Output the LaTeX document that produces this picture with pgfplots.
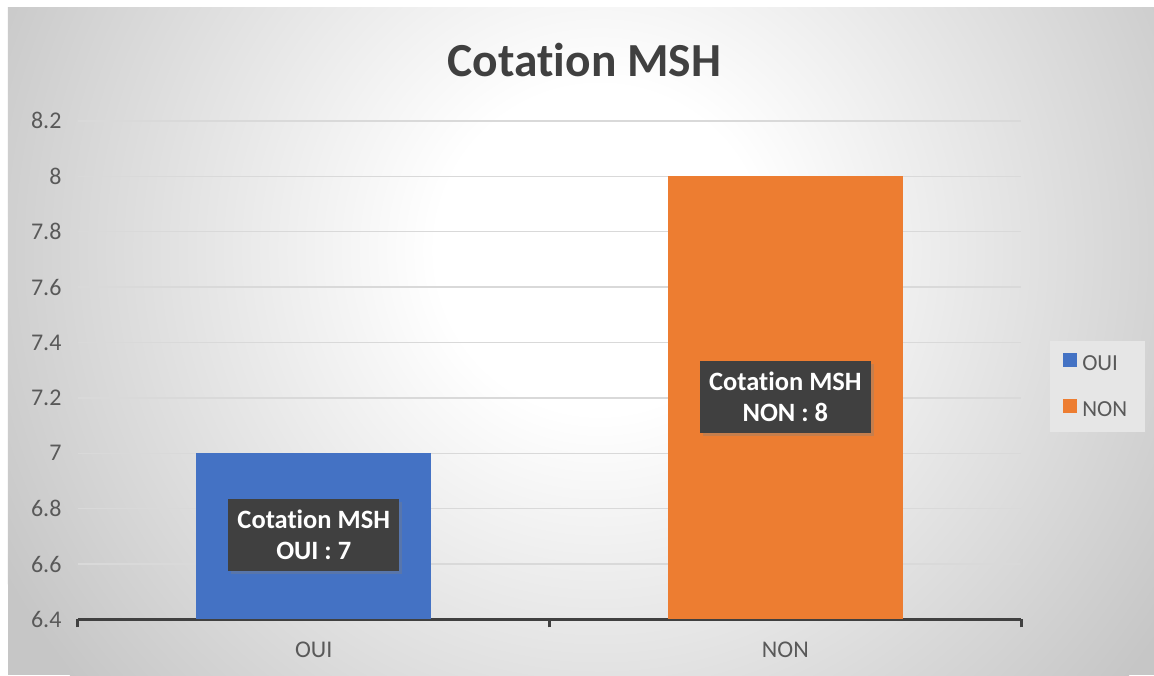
\documentclass[border=0pt]{standalone}
\usepackage{pgfplots}
\pgfplotsset{compat=1.18}
\usepackage{fontspec}
\setmainfont{Carlito}[Ligatures={NoCommon}]
\usetikzlibrary{shadows}
\definecolor{oui}{HTML}{4472C4}
\definecolor{non}{HTML}{ED7D31}
\definecolor{boxgray}{HTML}{404040}
\definecolor{txtgray}{HTML}{595959}
\definecolor{titlegray}{HTML}{404040}
\definecolor{gridgray}{HTML}{D9D9D9}
\definecolor{axisgray}{HTML}{404040}
\definecolor{bggray}{HTML}{C6C6C6}
\definecolor{legfill}{HTML}{E6E6E6}
\pgfdeclareradialshading{bgshade}{\pgfpointorigin}{color(0bp)=(white); color(6bp)=(white); color(25bp)=(bggray); color(60bp)=(bggray)}
\begin{document}
\begin{tikzpicture}[x=1pt,y=1pt]
\fill[white] (0,0) rectangle (1154,675);
\begin{scope}
\clip (8,-1) rectangle (1155,667);
\fill[bggray] (8,-1) rectangle (1155,667);
\shade[shading=bgshade] (600,425) circle (680);
\end{scope}
\begin{axis}[
  at={(78pt,55pt)}, anchor=south west,
  scale only axis, width=944pt, height=499pt,
  xmin=-0.5, xmax=1.5, ymin=6.4, ymax=8.2,
  ytick={6.4,6.6,6.8,7,7.2,7.4,7.6,7.8,8,8.2},
  ymajorgrids, grid style={draw=gridgray, line width=1.3pt},
  axis x line*=bottom, axis y line*=left,
  x axis line style={draw=axisgray, line width=3pt, -},
  y axis line style={draw=none},
  xtick={0,1}, xticklabels={OUI,NON},
  major x tick style={draw=none},
  minor xtick={-0.5,0.5,1.5},
  minor x tick style={draw=axisgray, line width=3pt},
  xtick align=outside, minor tick length=8pt,
  ytick style={draw=none},
  /pgf/number format/assume math mode=true,
  ticklabel style={font=\fontsize{24}{29}\selectfont, text=txtgray},
  yticklabel style={xshift=-13pt},
  xticklabel style={yshift=-15pt},
  legend style={at={(1.0307,0.559)}, anchor=north west, draw=none,
    fill=legfill, 
    inner xsep=13pt, inner ysep=12pt, row sep=25pt,
    nodes={inner ysep=2pt, inner xsep=5pt, font=\fontsize{23}{28}\selectfont, text=txtgray}},
  legend cell align=left,
]
\addplot[ybar, bar width=235pt, bar shift=0pt, fill=oui, draw=none,
  legend image code/.code={\fill[oui] (0pt,-3pt) rectangle (14pt,11pt);}]
  coordinates {(0,7)};
\addlegendentry{OUI}
\addplot[ybar, bar width=235pt, bar shift=0pt, fill=non, draw=none,
  legend image code/.code={\fill[non] (0pt,-3pt) rectangle (14pt,11pt);}]
  coordinates {(1,8)};
\addlegendentry{NON}
\node[fill=boxgray, text=white, align=center, minimum width=171pt, minimum height=73pt,
  inner sep=0pt, font=\fontsize{26.5}{31}\selectfont\bfseries,
  drop shadow={shadow xshift=3pt, shadow yshift=-3pt, opacity=0.35}]
  at (axis cs:0,6.705) {Cotation MSH\\OUI : 7};
\node[fill=boxgray, text=white, align=center, minimum width=171pt, minimum height=72pt,
  inner sep=0pt, font=\fontsize{26.5}{31}\selectfont\bfseries,
  drop shadow={shadow xshift=3pt, shadow yshift=-3pt, opacity=0.35}]
  at (axis cs:1,7.204) {Cotation MSH\\NON : 8};
\end{axis}
\node[font=\fontsize{47.5}{57}\selectfont\bfseries, text=titlegray] at (585,615) {Cotation MSH};
\end{tikzpicture}
\end{document}
